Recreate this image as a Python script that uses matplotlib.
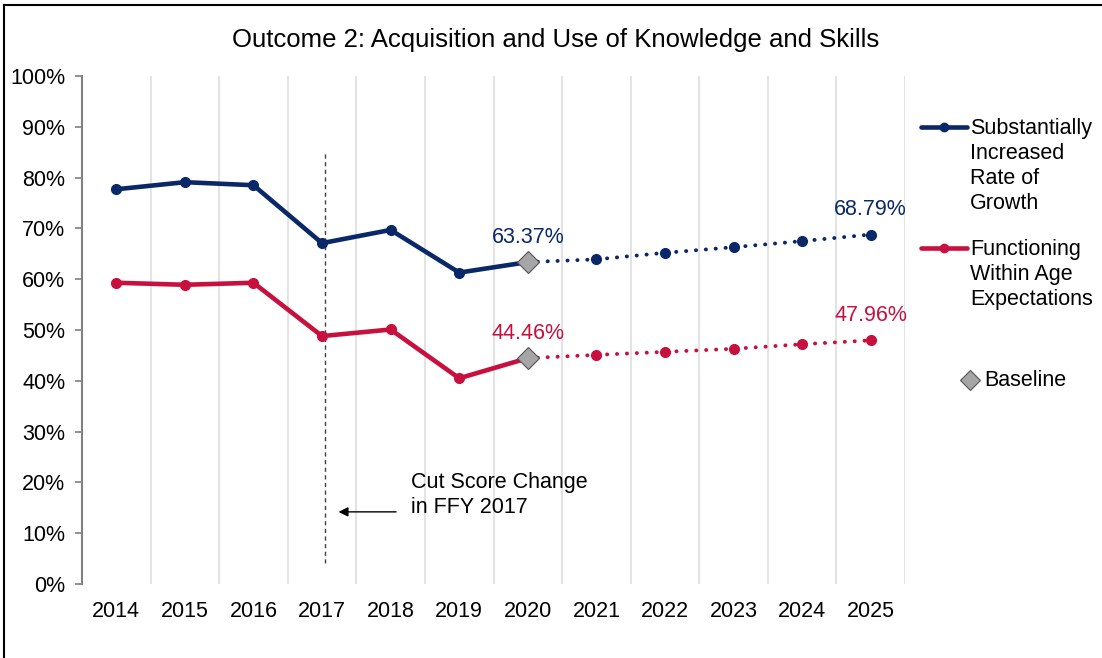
import matplotlib.pyplot as plt
from matplotlib.lines import Line2D
import numpy as np

plt.rcParams['font.family'] = ['Liberation Sans', 'DejaVu Sans']

# data
years = ['2014', '2015', '2016', '2017', '2018', '2019', '2020',
         '2021', '2022', '2023', '2024', '2025']
growth = [77.7, 79.1, 78.5, 67.1, 69.7, 61.3, 63.37,
          63.9, 65.2, 66.3, 67.5, 68.79]
within_age = [59.3, 58.9, 59.3, 48.8, 50.1, 40.5, 44.46,
              45.1, 45.7, 46.3, 47.2, 47.96]
baseline_idx = 6
cut_year_idx = 3

blue = '#0a2868'
red = '#c8103e'
gray_marker = '#a6a6a6'

fig = plt.figure(figsize=(11.02, 6.58), dpi=100)
ax = fig.add_axes([82 / 1102, 74 / 658, 823 / 1102, 508 / 658])

x = np.arange(len(years))

# vertical gridlines between categories
for b in np.arange(0.5, len(years), 1.0):
    ax.axvline(b, color='#e3e3e3', lw=1.5, zorder=0)

# actual (solid) and targets (dotted)
for vals, col in [(growth, blue), (within_age, red)]:
    ax.plot(x[:baseline_idx + 1], vals[:baseline_idx + 1], color=col, lw=3.3,
            marker='o', ms=7, zorder=3, solid_capstyle='round')
    ax.plot(x[baseline_idx:], vals[baseline_idx:], color=col, lw=2.8,
            ls=(0, (0.05, 2.5)), dash_capstyle='round', marker='o', ms=7,
            markevery=list(range(1, len(years) - baseline_idx)), zorder=3)
    ax.plot(x[baseline_idx], vals[baseline_idx], marker='D', ms=11,
            mfc=gray_marker, mec='#555555', mew=0.8, ls='none', zorder=4)
    for i in (baseline_idx, len(years) - 1):
        ax.text(x[i], vals[i] + 2.8, f'{vals[i]:.2f}%', color=col,
                fontsize=15.5, ha='center', va='bottom')

# cut score change marker
ax.plot([cut_year_idx + 0.04, cut_year_idx + 0.04], [4.2, 84.8],
        color='#404040', lw=1, ls=(0, (3, 2.5)), zorder=2)
ax.annotate('', xy=(cut_year_idx + 0.2, 14.2), xytext=(cut_year_idx + 1.12, 14.2),
            arrowprops=dict(arrowstyle='-|>', color='black', lw=1,
                            mutation_scale=14))
ax.text(cut_year_idx + 1.3, 17.6, 'Cut Score Change\nin FFY 2017',
        fontsize=15.5, va='center', ha='left', linespacing=1.25)

ax.set_xlim(-0.5, len(years) - 0.5)
ax.set_ylim(0, 100)
ax.set_xticks(x)
ax.set_xticklabels(years, fontsize=15.5)
ax.set_yticks(np.arange(0, 101, 10))
ax.set_yticklabels([f'{v}%' for v in range(0, 101, 10)], fontsize=15.5)
ax.tick_params(axis='x', length=0, pad=12)
ax.tick_params(axis='y', length=5, width=1.2, color='#808080', pad=7)
for s in ['top', 'right', 'bottom']:
    ax.spines[s].set_visible(False)
ax.spines['left'].set_color('#808080')
ax.spines['left'].set_linewidth(1.5)

fig.text(556 / 1102, 1 - 40 / 658, 'Outcome 2: Acquisition and Use of Knowledge and Skills',
         fontsize=18.5, ha='center', va='center')

# legend drawn by hand
def fy(py):
    return 1 - py / 658

for py, col, label in [(127, blue, 'Substantially\nIncreased\nRate of\nGrowth'),
                       (248, red, 'Functioning\nWithin Age\nExpectations')]:
    fig.add_artist(Line2D([921 / 1102, 967 / 1102], [fy(py), fy(py)], color=col, lw=3.3,
                          solid_capstyle='round'))
    fig.add_artist(Line2D([944 / 1102], [fy(py)], color=col, marker='o', ms=6))
    fig.text(970 / 1102, fy(py - 9), label, fontsize=15.5, va='top', ha='left',
             linespacing=1.24)
fig.add_artist(Line2D([970 / 1102], [fy(380)], marker='D', ms=10, mfc=gray_marker,
                      mec='#555555', mew=0.8, ls='none'))
fig.text(984 / 1102, fy(380), 'Baseline', fontsize=15.5, va='center', ha='left')

# outer frame (left and top edges visible)
fig.add_artist(Line2D([4 / 1102, 4 / 1102], [0, fy(5)], color='black', lw=1.5))
fig.add_artist(Line2D([4 / 1102, 1], [fy(5), fy(5)], color='black', lw=1.5))

fig.savefig('out.png', dpi=100)
